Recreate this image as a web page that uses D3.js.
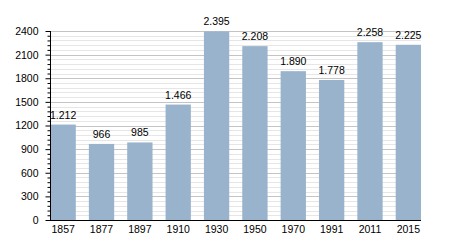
<!DOCTYPE html>
<html><head><meta charset="utf-8">
<script src="https://cdn.jsdelivr.net/npm/d3@7"></script>
<style>body{margin:0;background:#fff;}svg{display:block;font-family:"Liberation Sans",Arial,sans-serif;}</style>
</head><body>
<svg id="c" width="450" height="250"></svg>
<script>
const years = ["1857","1877","1897","1910","1930","1950","1970","1991","2011","2015"];
const population = [1212, 966, 985, 1466, 2395, 2208, 1890, 1778, 2258, 2225];
const valueLabels = ["1.212","966","985","1.466","2.395","2.208","1.890","1.778","2.258","2.225"];
const yMajorTicks = [0,300,600,900,1200,1500,1800,2100,2400];

const svg = d3.select("#c");
const mLeft = 50.5, mRight = 421, mTop = 31, mBottom = 220;
const x = d3.scaleBand().domain(years).range([mLeft, mRight]).paddingInner(0.34).paddingOuter(0);
const y = d3.scaleLinear().domain([0, 2400]).range([mBottom, mTop]);

const minor = d3.range(0, 2401, 60).filter(v => v % 300 !== 0);
// minor gridlines
svg.append("g").selectAll("line").data(minor).join("line")
  .attr("x1", mLeft).attr("x2", mRight)
  .attr("y1", d => Math.round(y(d)) + 0.5).attr("y2", d => Math.round(y(d)) + 0.5)
  .attr("stroke", "#e6e6e6").attr("stroke-width", 1);
// major gridlines
svg.append("g").selectAll("line").data(yMajorTicks.filter(v => v > 0)).join("line")
  .attr("x1", mLeft).attr("x2", mRight)
  .attr("y1", d => Math.round(y(d)) + 0.5).attr("y2", d => Math.round(y(d)) + 0.5)
  .attr("stroke", "#c4c4c4").attr("stroke-width", 1);

// bars
svg.append("g").selectAll("rect").data(population).join("rect")
  .attr("x", (d, i) => x(years[i]))
  .attr("width", x.bandwidth())
  .attr("y", d => y(d))
  .attr("height", d => mBottom - y(d))
  .attr("fill", "#99b3cc");

// value labels
svg.append("g").selectAll("text").data(population).join("text")
  .attr("x", (d, i) => x(years[i]) + x.bandwidth() / 2)
  .attr("y", d => y(d) - 6)
  .attr("text-anchor", "middle")
  .attr("font-size", 10.5)
  .attr("fill", "#000")
  .text((d, i) => valueLabels[i]);

// y axis
const yAxis = d3.axisLeft(y).tickValues(yMajorTicks).tickSize(5).tickPadding(7).tickFormat(d3.format("d"));
const gy = svg.append("g").attr("transform", `translate(${mLeft},0)`).call(yAxis);
gy.select(".domain").attr("d", `M0,${mTop}V${mBottom + 0.5}`).attr("stroke", "#000");
gy.selectAll(".tick text").attr("font-size", 10.5).attr("font-family", "Liberation Sans, Arial, sans-serif").attr("fill", "#000");
gy.selectAll(".tick line").attr("stroke", "#000");
const yMinorAxis = d3.axisLeft(y).tickValues(minor).tickSize(3).tickFormat("");
const gym = svg.append("g").attr("transform", `translate(${mLeft},0)`).call(yMinorAxis);
gym.select(".domain").remove();
gym.selectAll(".tick line").attr("stroke", "#000");

// x axis
const xAxis = d3.axisBottom(x).tickSize(0).tickPadding(6);
const gx = svg.append("g").attr("transform", `translate(0,${mBottom})`).call(xAxis);
gx.select(".domain").attr("d", `M${mLeft - 0.5},0.5H${mRight}`).attr("stroke", "#000");
gx.selectAll(".tick text").attr("font-size", 10.5).attr("font-family", "Liberation Sans, Arial, sans-serif").attr("fill", "#000");
</script>
</body></html>
